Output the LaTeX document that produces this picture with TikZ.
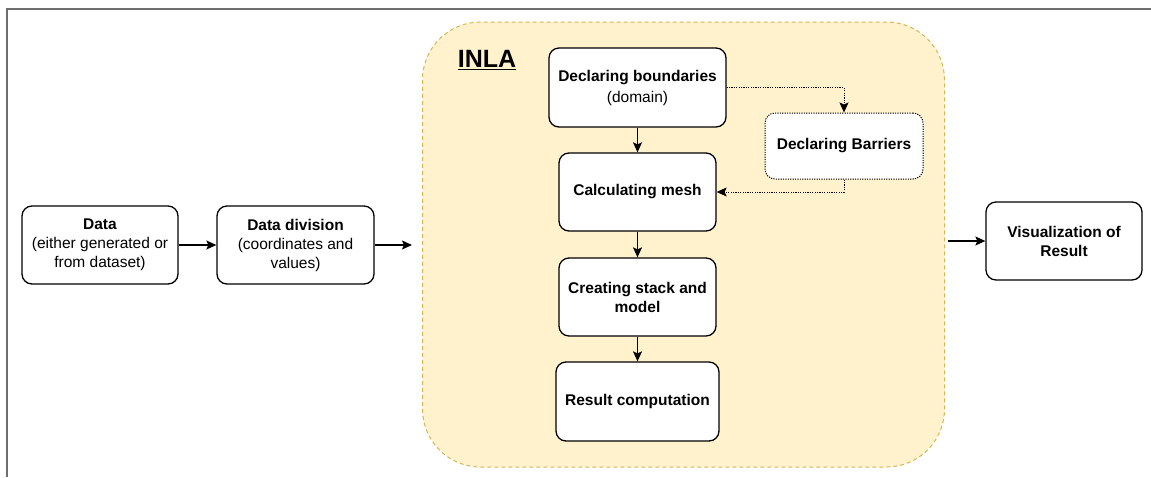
\documentclass[tikz,border=0pt]{standalone}
\usepackage{fontspec}
\setmainfont{Liberation Sans}
\usetikzlibrary{arrows.meta}

\definecolor{inlafill}{HTML}{FFF2CC}
\definecolor{inladraw}{HTML}{D6B656}
\definecolor{framegray}{HTML}{6E6E6E}

\newcommand{\boxfont}{\fontsize{15.5}{19}\selectfont}

\begin{document}
\begin{tikzpicture}[x=1pt, y=-1pt,
        box/.style={draw, rounded corners=10pt, fill=white, line width=1.3pt,
            align=center, font=\boxfont, inner sep=0pt, minimum width=156pt, minimum height=78pt},
        dotbox/.style={box, line width=1pt, dash pattern=on 1.2pt off 1.2pt},
        region/.style={draw=inladraw, fill=inlafill, line width=1pt,
            dash pattern=on 4pt off 3pt, rounded corners=58pt, inner sep=0pt},
        arrow/.style={line width=1.3pt, -{Stealth[length=10pt, width=9pt, inset=2pt]}},
        dotarrow/.style={line width=1pt, dash pattern=on 1.2pt off 1.2pt,
            -{Stealth[length=10pt, width=9pt, inset=2pt]}}]
        \useasboundingbox (0, 0) rectangle (1151, 477);

        % frame
        \draw[framegray, line width=2pt] (7, 477) -- (7, 9) -- (1151, 9);

        % INLA region
        \node[region, minimum width=522pt, minimum height=445pt] (inla) at (683.5, 244.5) {};
        \node[font=\bfseries\fontsize{25}{28}\selectfont] (title) at (487, 60) {\underline{INLA}};

        % boxes outside
        \node[box] (data) at (100, 245) {\textbf{Data}\\(either generated or\\from dataset)};
        \node[box, minimum width=157pt] (division) at (295.5, 245) {\textbf{Data division}\\(coordinates and\\values)};
        \node[box] (visual) at (1064, 241) {\textbf{Visualization of}\\\textbf{Result}};

        % boxes inside
        \node[box, minimum width=177pt, minimum height=79pt] (bounds) at (637.5, 87.5)
            {\textbf{Declaring boundaries}\\[2pt](domain)};
        \node[box, minimum width=157pt] (mesh) at (637.5, 192) {\textbf{Calculating mesh}};
        \node[box, minimum width=157pt] (stack) at (637.5, 297) {\textbf{Creating stack and}\\\textbf{model}};
        \node[box, minimum width=163pt, minimum height=79pt] (result) at (637.5, 401.5) {\textbf{Result computation}};
        \node[dotbox, minimum width=158pt, minimum height=66pt] (barriers) at (844, 146) {\textbf{Declaring Barriers}};

        \coordinate (inlain) at (412, 245);
        \coordinate (inlaout) at (948, 241);

        % connectors
        \draw[arrow] (data) -- (division);
        \draw[arrow] (division) -- (inlain);
        \draw[arrow] (inlaout) -- (visual);
        \draw[arrow] (bounds) -- (mesh);
        \draw[arrow] (mesh) -- (stack);
        \draw[arrow] (stack) -- (result);
        \draw[dotarrow] (bounds.east) -| (barriers.north);
        \draw[dotarrow] (barriers.south) |- (mesh.east);
    \end{tikzpicture}
\end{document}
